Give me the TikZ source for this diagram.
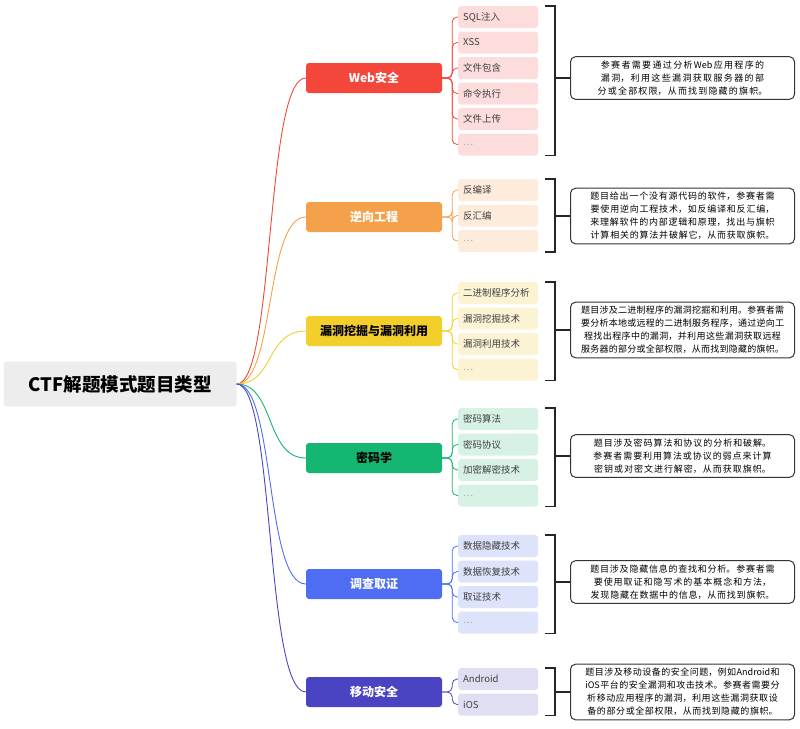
\documentclass[tikz,border=0pt]{standalone}
\usepackage{fontspec}
\setmainfont{Noto Sans CJK SC}
\XeTeXlinebreaklocale "zh"
\XeTeXlinebreakskip=0pt plus 1pt
\usetikzlibrary{positioning}
\definecolor{webc}{HTML}{F2473A}\definecolor{webl}{HTML}{FDDCDC}
\definecolor{revc}{HTML}{F5A04A}\definecolor{revl}{HTML}{FDEBDB}
\definecolor{pwnc}{HTML}{F3CF2C}\definecolor{pwnl}{HTML}{FCF3D5}
\definecolor{cryc}{HTML}{15B671}\definecolor{cryl}{HTML}{D7F2E5}
\definecolor{forc}{HTML}{4F6DF2}\definecolor{forl}{HTML}{DDE3FA}
\definecolor{mobc}{HTML}{4A44C2}\definecolor{mobl}{HTML}{DFDEF2}
\definecolor{rootc}{HTML}{EDEDED}
\tikzset{
  rootbox/.style={fill=rootc, rounded corners=3pt, minimum width=233pt, minimum height=45pt, font=\fontsize{18.5}{20}\selectfont\bfseries},
  catbox/.style={rounded corners=3pt, minimum width=136pt, minimum height=30pt, font=\fontsize{12}{14}\selectfont\bfseries},
  leafbox/.style={rounded corners=3pt, text width=70pt, align=left, minimum height=22pt, anchor=west, inner xsep=5pt, text=black!75, font=\fontsize{9.5}{11}\selectfont},
  descbox/.style={draw=black!80, line width=1pt, rounded corners=5pt, fill=white, text width=212pt, align=center, inner xsep=6pt, inner ysep=4pt, anchor=west, font=\fontsize{9}{13}\selectfont}
}
\begin{document}
\begin{tikzpicture}[x=1pt, y=-1pt]
  \useasboundingbox (0,0) rectangle (800,728);
  \node[rootbox] (root) at (120,384) {CTF解题模式题目类型};
  \foreach \id/\lab/\cy/\col/\tcol/\ly/\leaves/\dy/\desc in {
      web/Web安全/78/webc/white/17/{SQL注入,XSS,文件包含,命令执行,文件上传,\textcolor{black!35}{\ldots}}/78/{参赛者需要通过分析Web应用程序的漏洞，利用这些漏洞获取服务器的部分或全部权限，从而找到隐藏的旗帜。},
      rev/逆向工程/217/revc/white/190/{反编译,反汇编,\textcolor{black!35}{\ldots}}/216/{题目给出一个没有源代码的软件，参赛者需要使用逆向工程技术，如反编译和反汇编，来理解软件的内部逻辑和原理，找出与旗帜计算相关的算法并破解它，从而获取旗帜。},
      pwn/漏洞挖掘与漏洞利用/331/pwnc/black/293/{二进制程序分析,漏洞挖掘技术,漏洞利用技术,\textcolor{black!35}{\ldots}}/330/{题目涉及二进制程序的漏洞挖掘和利用。参赛者需要分析本地或远程的二进制服务程序，通过逆向工程找出程序中的漏洞，并利用这些漏洞获取远程服务器的部分或全部权限，从而找到隐藏的旗帜。},
      cry/密码学/458/cryc/black/419/{密码算法,密码协议,加密解密技术,\textcolor{black!35}{\ldots}}/456/{题目涉及密码算法和协议的分析和破解。参赛者需要利用算法或协议的弱点来计算密钥或对密文进行解密，从而获取旗帜。},
      for/调查取证/584/forc/white/546/{数据隐藏技术,数据恢复技术,取证技术,\textcolor{black!35}{\ldots}}/582/{题目涉及隐藏信息的查找和分析。参赛者需要使用取证和隐写术的基本概念和方法，发现隐藏在数据中的信息，从而找到旗帜。},
      mob/移动安全/692/mobc/white/679/{Android,iOS}/692/{题目涉及移动设备的安全问题，例如Android和iOS平台的安全漏洞和攻击技术。参赛者需要分析移动应用程序的漏洞，利用这些漏洞获取设备的部分或全部权限，从而找到隐藏的旗帜。}}{
    \node[catbox, fill=\col, text=\tcol] (\id) at (374,\cy) {\lab};
    \draw[\col, line width=0.9pt] (root.east) .. controls (275,384) and (265,\cy) .. (\id.west);
    \foreach \t [count=\k] in \leaves {
      \node[leafbox, fill=\id l] (\id\k) at (458,{\ly+(\k-1)*25.5}) {\t};
      \draw[\col, line width=0.8pt, rounded corners=5pt] (\id.east) -- ++(10,0) |- (\id\k.west);
      \coordinate (\id last) at (545,{\ly+(\k-1)*25.5+11});
    }
    \node[descbox] (\id d) at (570,\dy) {\desc};
    \coordinate (\id top) at (545,\ly-11);
    \draw[black!85, line width=1.3pt] (\id top) -- ++(10,0) |- (\id last);
    \draw[black!85, line width=1.3pt] (555,\dy) -- (\id d.west);
  }
\end{tikzpicture}
\end{document}
